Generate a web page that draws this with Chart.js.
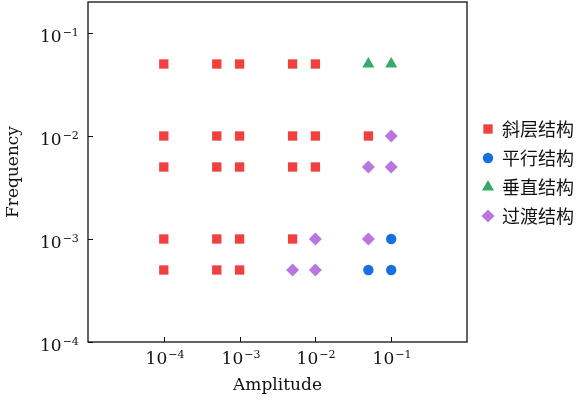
<!DOCTYPE html>
<html>
<head>
<meta charset="utf-8">
<script src="https://cdn.jsdelivr.net/npm/chart.js@4/dist/chart.umd.min.js"></script>
<style>
  html, body { margin: 0; padding: 0; background: #fff; }
</style>
</head>
<body>
<canvas id="chart" width="577" height="400"></canvas>
<script>
// series names (legend order)
const seriesNames = ['斜层结构', '平行结构', '垂直结构', '过渡结构']

// 斜层结构 (red squares)
const layeredX = [1e-4, 5e-4, 1e-3, 5e-3, 1e-2,
                  1e-4, 5e-4, 1e-3, 5e-3, 1e-2, 5e-2,
                  1e-4, 5e-4, 1e-3, 5e-3, 1e-2,
                  1e-4, 5e-4, 1e-3, 5e-3,
                  1e-4, 5e-4, 1e-3]
const layeredY = [0.05, 0.05, 0.05, 0.05, 0.05,
                  0.01, 0.01, 0.01, 0.01, 0.01, 0.01,
                  0.005, 0.005, 0.005, 0.005, 0.005,
                  0.001, 0.001, 0.001, 0.001,
                  5e-4, 5e-4, 5e-4]

// 平行结构 (blue circles)
const parallelX = [0.1, 0.05, 0.1]
const parallelY = [0.001, 5e-4, 5e-4]

// 垂直结构 (green triangles)
const verticalX = [0.05, 0.1]
const verticalY = [0.05, 0.05]

// 过渡结构 (purple diamonds)
const transitionX = [0.1, 0.05, 0.1, 0.01, 0.05, 5e-3, 1e-2]
const transitionY = [0.01, 0.005, 0.005, 0.001, 0.001, 5e-4, 5e-4]

// axis ticks (decades) and their exponent labels
const xTicks = [1e-4, 1e-3, 1e-2, 1e-1]
const xTickExps = ['−4', '−3', '−2', '−1']
const yTicks = [1e-4, 1e-3, 1e-2, 1e-1]
const yTickExps = ['−4', '−3', '−2', '−1']

const serif = '"DejaVu Serif", "Liberation Serif", serif'
const textColor = '#111'

const toPoints = (xs, ys) => xs.map((v, i) => ({ x: v, y: ys[i] }))

function makeSet(label, xs, ys, color, style, radius) {
  return {
    label: label,
    data: toPoints(xs, ys),
    backgroundColor: color,
    borderWidth: 0,
    pointStyle: style,
    pointRadius: radius,
    pointHoverRadius: radius,
  }
}

// draws "10" with a raised exponent
function drawPow(ctx, x, baseline, exp, align) {
  ctx.font = '17px ' + serif
  const wBase = ctx.measureText('10').width
  ctx.font = '11px ' + serif
  const wExp = ctx.measureText(exp).width
  let start = x
  if (align === 'center') start = x - (wBase + wExp) / 2
  ctx.textAlign = 'left'
  ctx.textBaseline = 'alphabetic'
  ctx.font = '17px ' + serif
  ctx.fillText('10', start, baseline)
  ctx.font = '11px ' + serif
  ctx.fillText(exp, start + wBase + 1, baseline - 6.5)
}

const frameAndTicks = {
  id: 'frameAndTicks',
  afterDraw(chart) {
    const { ctx, chartArea: a, scales } = chart
    ctx.save()
    ctx.strokeStyle = textColor
    ctx.fillStyle = textColor
    ctx.lineWidth = 1.3
    ctx.strokeRect(a.left, a.top, a.right - a.left, a.bottom - a.top)
    ctx.lineWidth = 1
    xTicks.forEach((v, i) => {
      const px = Math.round(scales.x.getPixelForValue(v)) + 0.5
      ctx.beginPath()
      ctx.moveTo(px, a.bottom)
      ctx.lineTo(px, a.bottom - 5)
      ctx.stroke()
      drawPow(ctx, px, a.bottom + 22, xTickExps[i], 'center')
    })
    yTicks.forEach((v, i) => {
      const py = Math.round(scales.y.getPixelForValue(v)) + 0.5
      ctx.beginPath()
      ctx.moveTo(a.left, py)
      ctx.lineTo(a.left + 5, py)
      ctx.stroke()
      drawPow(ctx, a.left - 48, py + 8.5, yTickExps[i], 'left')
    })
    ctx.restore()
  }
}

const sideLegend = {
  id: 'sideLegend',
  afterDraw(chart) {
    const { ctx } = chart
    ctx.save()
    chart.data.datasets.forEach((ds, i) => {
      const y = 129 + i * 29
      ctx.fillStyle = ds.backgroundColor
      ctx.strokeStyle = ds.backgroundColor
      Chart.helpers.drawPoint(ctx, {
        pointStyle: ds.pointStyle,
        radius: ds.pointRadius,
        rotation: 0,
        borderWidth: 0,
      }, 488, y)
      ctx.fillStyle = textColor
      ctx.font = '18px "Noto Sans CJK SC", sans-serif'
      ctx.textAlign = 'left'
      ctx.textBaseline = 'middle'
      ctx.fillText(ds.label, 502, y)
    })
    ctx.restore()
  }
}

new Chart(document.getElementById('chart'), {
  type: 'scatter',
  data: {
    datasets: [
      makeSet(seriesNames[0], layeredX, layeredY, '#f04040', 'rect', 6.6),
      makeSet(seriesNames[1], parallelX, parallelY, '#1a6fdf', 'circle', 5.2),
      makeSet(seriesNames[2], verticalX, verticalY, '#35aa6b', 'triangle', 7),
      makeSet(seriesNames[3], transitionX, transitionY, '#b876e0', 'rectRot', 6.5),
    ],
  },
  options: {
    responsive: false,
    animation: false,
    layout: { autoPadding: false, padding: { top: 2, right: 110, left: 0, bottom: 0 } },
    plugins: {
      legend: { display: false },
      tooltip: { enabled: false },
    },
    scales: {
      x: {
        type: 'logarithmic',
        min: 1e-5,
        max: 1,
        grid: { display: false },
        border: { display: false },
        ticks: { display: false },
        title: {
          display: true,
          text: 'Amplitude',
          color: textColor,
          font: { family: serif, size: 17 },
          padding: { top: 0, bottom: 4 },
        },
        afterFit(scale) { scale.height = 58 },
      },
      y: {
        type: 'logarithmic',
        min: 1e-4,
        max: 0.2,
        grid: { display: false },
        border: { display: false },
        ticks: { display: false },
        title: {
          display: true,
          text: 'Frequency',
          color: textColor,
          font: { family: serif, size: 17 },
          padding: { top: 3, bottom: 0 },
        },
        afterFit(scale) { scale.width = 88 },
      },
    },
  },
  plugins: [frameAndTicks, sideLegend],
})
</script>
</body>
</html>
